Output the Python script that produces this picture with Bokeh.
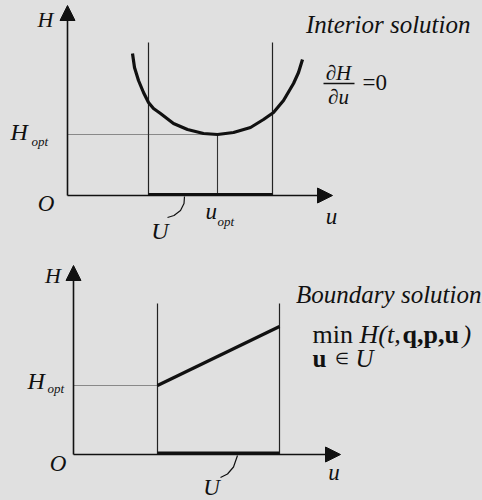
from bokeh.plotting import figure
from bokeh.models import Range1d, Label, Arrow, NormalHead
from bokeh.layouts import column
from bokeh.embed import file_html
from bokeh.resources import INLINE

BG = "#e0e0e0"
INK = "#111111"
SERIF = "Liberation Serif"

# ---------------- data (diagram units: u right, H up, origin at axes) -------------
# Top panel: interior solution
top_curve_u = [65, 67, 71, 76, 81, 86, 93, 106, 120, 136, 150, 166, 183, 196, 206, 216, 226, 231, 235]
top_curve_H = [142, 128, 115, 103, 93, 87, 82, 72, 66, 62, 61, 63, 68, 76, 83, 95, 112, 123, 136]
top_U = [81, 205]            # admissible set bounds
top_bound_H = 153            # height of the bound lines
top_u_opt = 150
top_H_opt = 61
top_u_axis_end = 265
top_H_axis_end = 190
top_U_leader_u = [117, 116.5, 113, 106.5, 100]
top_U_leader_H = [-1, -8, -15, -20, -22]

# Bottom panel: boundary solution
bot_line_u = [84, 206]
bot_line_H = [69, 128]
bot_U = [84, 206]
bot_bound_H = 151
bot_H_opt = 69
bot_u_axis_end = 267
bot_H_axis_end = 189
bot_U_leader_u = [164, 160, 154, 147]
bot_U_leader_H = [-1, -12.5, -19.5, -23]


def make_fig(x0, y0, w=482, h=250):
    p = figure(width=w, height=h, output_backend="svg", toolbar_location=None,
               x_range=Range1d(x0, x0 + w), y_range=Range1d(y0, y0 + h),
               x_axis_location=None, y_axis_location=None, min_border=0)
    p.grid.visible = False
    p.outline_line_color = None
    p.background_fill_color = BG
    p.border_fill_color = BG
    return p


def lab(p, x, y, text, size, style="italic", align="center"):
    p.add_layout(Label(x=x, y=y, text=text, text_font=SERIF, text_font_size=f"{size}px",
                       text_font_style=style, text_align=align, text_baseline="middle",
                       text_color=INK))


def axes(p, u_end, H_end):
    p.add_layout(Arrow(end=NormalHead(size=15, fill_color=INK, line_color=INK, line_width=1),
                       x_start=0, y_start=0, x_end=0, y_end=H_end,
                       line_color=INK, line_width=1.6))
    p.add_layout(Arrow(end=NormalHead(size=15, fill_color=INK, line_color=INK, line_width=1),
                       x_start=0, y_start=0, x_end=u_end, y_end=0,
                       line_color=INK, line_width=1.6))


# ---------------- top panel ----------------
top = make_fig(-67, -55)
axes(top, top_u_axis_end, top_H_axis_end)
for ub in top_U:
    top.line([ub, ub], [0, top_bound_H], line_color="#222222", line_width=1.2)
top.line([0, top_u_opt], [top_H_opt, top_H_opt], line_color="#333333", line_width=1, line_dash="1 1")
top.line([top_u_opt, top_u_opt], [0, top_H_opt], line_color="#333333", line_width=1.1)
top.line(top_U, [1, 1], line_color=INK, line_width=3.2)
top.line(top_curve_u, top_curve_H, line_color=INK, line_width=3.2)
top.line(top_U_leader_u, top_U_leader_H, line_color=INK, line_width=1.2)

lab(top, -22, 176.5, "H", 22)
lab(top, -21.5, -7.5, "O", 23)
lab(top, 264, -21, "u", 23)
lab(top, -57, 63.5, "H", 24, align="left")
lab(top, -36, 54, "opt", 13, align="left")
lab(top, 138, -16, "u", 23, align="left")
lab(top, 150, -25.5, "opt", 13, align="left")
lab(top, 92.5, -35.5, "U", 24)
lab(top, 403, 171, "Interior solution", 25, align="right")
lab(top, 271, 122.5, "\u2202H", 21)
top.line([256, 287], [112, 112], line_color=INK, line_width=1.4)
lab(top, 271, 99, "\u2202u", 21)
lab(top, 295, 113, "=0", 23, style="normal", align="left")

# ---------------- bottom panel ----------------
bot = make_fig(-73, -46)
axes(bot, bot_u_axis_end, bot_H_axis_end)
for ub in bot_U:
    bot.line([ub, ub], [0, bot_bound_H], line_color="#222222", line_width=1.2)
bot.line([0, bot_line_u[0]], [bot_H_opt, bot_H_opt], line_color="#333333", line_width=1, line_dash="1 1")
bot.line(bot_U, [1.5, 1.5], line_color=INK, line_width=3.2)
bot.line(bot_line_u, bot_line_H, line_color=INK, line_width=3.2)
bot.line(bot_U_leader_u, bot_U_leader_H, line_color=INK, line_width=1.2)

lab(bot, -20.5, 179, "H", 22)
lab(bot, -15.5, -8.5, "O", 23)
lab(bot, 260.5, -18, "u", 23)
lab(bot, -46, 74, "H", 24, align="left")
lab(bot, -26, 66.5, "opt", 13, align="left")
lab(bot, 138, -33, "U", 23)
lab(bot, 408, 160, "Boundary solution", 25, align="right")
lab(bot, 239, 120, "min", 26, style="normal", align="left")
lab(bot, 286, 120, "H(t,", 26, align="left")
lab(bot, 329, 120, "q,p,u", 26, style="bold", align="left")
lab(bot, 389, 120, ")", 26, align="left")
lab(bot, 239, 96, "u", 25, style="bold", align="left")
lab(bot, 261, 96, "\u2208", 16, style="normal", align="left")
lab(bot, 282, 96, "U", 25, align="left")

layout = column(top, bot, spacing=0)

html = file_html(layout, INLINE).replace("<body>", f'<body style="background:{BG}">')
open("out.html", "w").write(html)
